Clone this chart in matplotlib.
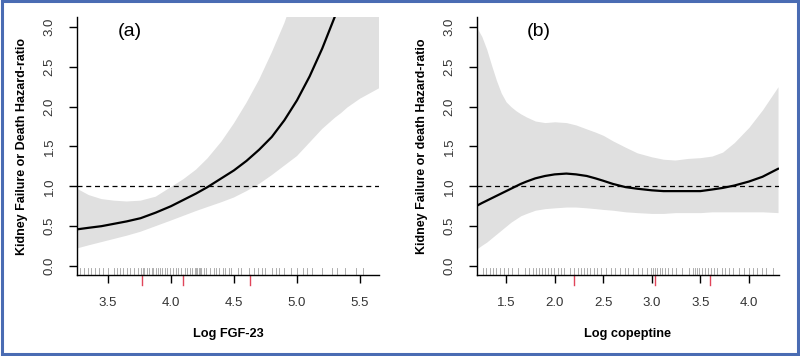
import numpy as np
import matplotlib
matplotlib.use("Agg")
import matplotlib.pyplot as plt
from matplotlib.patches import Rectangle

plt.rcParams['font.family'] = ['Liberation Sans', 'DejaVu Sans']

# ---- panel (a) : Log FGF-23
xa = [3.256, 3.35, 3.45, 3.55, 3.65, 3.76, 3.88, 4.0, 4.1, 4.2, 4.29, 4.4, 4.5, 4.6, 4.7, 4.8, 4.9, 5.0, 5.1, 5.2, 5.3, 5.35]
fit_a = [0.46, 0.48, 0.50, 0.53, 0.56, 0.60, 0.67, 0.75, 0.83, 0.91, 0.99, 1.10, 1.20, 1.32, 1.46, 1.62, 1.83, 2.08, 2.38, 2.73, 3.13, 3.35]
lo_a = [0.22, 0.26, 0.30, 0.34, 0.38, 0.43, 0.50, 0.57, 0.63, 0.69, 0.74, 0.80, 0.86, 0.94, 1.03, 1.14, 1.26, 1.38, 1.55, 1.72, 1.86, 1.92]
hi_a = [0.97, 0.89, 0.84, 0.82, 0.81, 0.82, 0.87, 0.99, 1.09, 1.21, 1.35, 1.56, 1.79, 2.05, 2.34, 2.68, 3.05, 3.5, 4.0, 4.6, 5.2, 5.5]
# band continues past the end of the fitted line
xa_tail = [5.4, 5.5, 5.65]
lo_a_tail = [1.99, 2.10, 2.23]
hi_a_tail = [5.8, 6.4, 7.2]
knots_a = [3.77, 4.10, 4.63]
rug_a = [3.28, 3.31, 3.34, 3.37, 3.40, 3.43, 3.46, 3.50, 3.55, 3.57, 3.60, 3.62, 3.65, 3.68,
         3.71, 3.74, 3.76, 3.78, 3.79, 3.81, 3.83, 3.85, 3.86, 3.88, 3.90, 3.91, 3.93, 3.95,
         3.97, 3.99, 4.02, 4.04, 4.06, 4.08, 4.11, 4.13, 4.15, 4.17, 4.19, 4.20, 4.21, 4.22,
         4.23, 4.24, 4.26, 4.28, 4.31, 4.34, 4.36, 4.38, 4.41, 4.43, 4.46, 4.48, 4.53, 4.56,
         4.62, 4.66, 4.69, 4.72, 4.75, 4.80, 4.83, 4.86, 4.90, 4.95, 5.00, 5.05, 5.08, 5.12,
         5.20, 5.28, 5.32, 5.38, 5.47, 5.52]

# ---- panel (b) : Log copeptine
xb = [1.204, 1.25, 1.30, 1.35, 1.40, 1.45, 1.50, 1.55, 1.60, 1.65, 1.71, 1.80, 1.90, 2.0, 2.12, 2.22,
      2.33, 2.42, 2.5, 2.6, 2.73, 2.85, 3.0, 3.12, 3.24, 3.37, 3.5, 3.62, 3.73, 3.85, 4.0, 4.14, 4.3]
fit_b = [0.76, 0.79, 0.82, 0.85, 0.88, 0.91, 0.94, 0.97, 1.00, 1.03, 1.06, 1.10, 1.13, 1.15, 1.16, 1.15,
         1.13, 1.10, 1.07, 1.03, 0.99, 0.97, 0.95, 0.94, 0.94, 0.94, 0.94, 0.96, 0.98, 1.01, 1.06, 1.12, 1.22]
lo_b = [0.22, 0.26, 0.30, 0.35, 0.40, 0.45, 0.50, 0.55, 0.59, 0.63, 0.66, 0.70, 0.72, 0.73, 0.74, 0.74,
        0.73, 0.72, 0.71, 0.70, 0.68, 0.67, 0.66, 0.66, 0.67, 0.67, 0.67, 0.68, 0.68, 0.68, 0.68, 0.68, 0.67]
hi_b = [2.98, 2.88, 2.72, 2.52, 2.33, 2.17, 2.06, 2.00, 1.95, 1.91, 1.87, 1.82, 1.80, 1.81, 1.80, 1.77,
        1.72, 1.68, 1.64, 1.57, 1.49, 1.42, 1.37, 1.34, 1.33, 1.35, 1.36, 1.38, 1.43, 1.55, 1.74, 1.96, 2.25]
knots_b = [2.20, 3.03, 3.60]
rug_b = [1.26, 1.29, 1.33, 1.36, 1.40, 1.44, 1.48, 1.52, 1.56, 1.62, 1.69, 1.74, 1.78, 1.81, 1.84,
         1.87, 1.90, 1.93, 1.96, 1.99, 2.03, 2.07, 2.10, 2.16, 2.20, 2.24, 2.27, 2.30, 2.33, 2.36,
         2.40, 2.44, 2.48, 2.53, 2.58, 2.62, 2.67, 2.72, 2.76, 2.81, 2.86, 2.90, 2.95, 2.99, 3.01,
         3.03, 3.05, 3.08, 3.11, 3.14, 3.17, 3.21, 3.25, 3.31, 3.38, 3.42, 3.45, 3.47, 3.49, 3.52,
         3.55, 3.58, 3.61, 3.64, 3.67, 3.72, 3.75, 3.79, 3.84, 3.90, 3.95, 4.00, 4.04, 4.08, 4.13,
         4.18, 4.25]

band_col = '#e0e0e0'
fig = plt.figure(figsize=(8, 3.56), dpi=100)


def panel(rect, x, fit, xband, lo, hi, knots, rug, xlim, xticks, xlabel, ylabel, tag, tagx):
    ax = fig.add_axes(rect)
    ax.fill_between(xband, lo, hi, color=band_col, lw=0)
    ax.plot(x, fit, color='black', lw=1.6)
    ax.axhline(1.0, color='black', lw=0.9, ls=(0, (4, 3)))
    ax.set_xlim(*xlim)
    ax.set_ylim(-0.113, 3.125)
    for s in ['top', 'right']:
        ax.spines[s].set_visible(False)
    for s in ['left', 'bottom']:
        ax.spines[s].set_linewidth(1.0)
    ax.set_yticks([0.0, 0.5, 1.0, 1.5, 2.0, 2.5, 3.0])
    ax.set_yticklabels(['0.0', '0.5', '1.0', '1.5', '2.0', '2.5', '3.0'], rotation=90, va='center')
    ax.set_xticks(xticks)
    ax.set_xticklabels(['%.1f' % t for t in xticks])
    ax.tick_params(axis='both', length=5.5, width=1.0, labelsize=9.5, labelcolor='#333333')
    ax.tick_params(axis='y', pad=10)
    ax.tick_params(axis='x', pad=10)
    ax.set_xlabel(xlabel, fontsize=9.2, fontweight='bold', labelpad=14)
    ax.set_ylabel(ylabel, fontsize=9, fontweight='bold', labelpad=11)
    tr = ax.get_xaxis_transform()
    for r in rug:
        ax.plot([r, r], [0.005, 0.027], transform=tr, color='#777777', lw=0.6, alpha=0.7, clip_on=False)
    for k in knots:
        ax.plot([k, k], [0.0, -0.038], transform=tr, color='#e0455a', lw=1.0, clip_on=False)
    ax.text(tagx, 0.944, tag, transform=ax.transAxes, fontsize=14, ha='center', va='center')
    return ax


panel([0.09625, 0.2275, 0.3775, 0.7247], xa, fit_a, xa + xa_tail, lo_a + lo_a_tail, hi_a + hi_a_tail,
      knots_a, rug_a, (3.256, 5.65), [3.5, 4.0, 4.5, 5.0, 5.5], 'Log FGF-23',
      'Kidney Failure or Death Hazard-ratio', '(a)', 0.175)
panel([0.59625, 0.2275, 0.3775, 0.7247], xb, fit_b, xb, lo_b, hi_b, knots_b, rug_b,
      (1.20, 4.31), [1.5, 2.0, 2.5, 3.0, 3.5, 4.0], 'Log copeptine',
      'Kidney Failure or death Hazard-ratio', '(b)', 0.204)

fig.patches.append(Rectangle((0.003, 0.005), 0.994, 0.992, transform=fig.transFigure,
                             fill=False, edgecolor='#4a6cb3', lw=2.2))

fig.savefig('out.png', dpi=100)
